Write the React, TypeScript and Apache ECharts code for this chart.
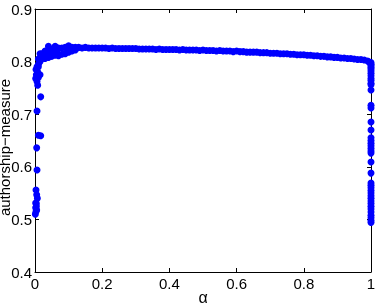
import React, { useEffect, useRef } from "react";
import * as echarts from "echarts";

const xTicks = [0, 0.2, 0.4, 0.6, 0.8, 1];
const yTicks = [0.4, 0.5, 0.6, 0.7, 0.8, 0.9];

// main band (alpha, authorship measure)
const bandAlpha = [
  0.01, 0.02, 0.03, 0.04, 0.05, 0.06, 0.07, 0.08, 0.09, 0.1,
  0.11, 0.12, 0.13, 0.14, 0.15, 0.16, 0.17, 0.18, 0.19, 0.2,
  0.21, 0.22, 0.23, 0.24, 0.25, 0.26, 0.27, 0.28, 0.29, 0.3,
  0.31, 0.32, 0.33, 0.34, 0.35, 0.36, 0.37, 0.38, 0.39, 0.4,
  0.41, 0.42, 0.43, 0.44, 0.45, 0.46, 0.47, 0.48, 0.49, 0.5,
  0.51, 0.52, 0.53, 0.54, 0.55, 0.56, 0.57, 0.58, 0.59, 0.6,
  0.61, 0.62, 0.63, 0.64, 0.65, 0.66, 0.67, 0.68, 0.69, 0.7,
  0.71, 0.72, 0.73, 0.74, 0.75, 0.76, 0.77, 0.78, 0.79, 0.8,
  0.81, 0.82, 0.83, 0.84, 0.85, 0.86, 0.87, 0.88, 0.89, 0.9,
  0.91, 0.92, 0.93, 0.94, 0.95, 0.96, 0.97, 0.98, 0.99, 0.995,
];
const bandValue = [
  0.805, 0.815, 0.82, 0.823, 0.824, 0.825, 0.826, 0.826, 0.827, 0.827,
  0.827, 0.827, 0.827, 0.826, 0.827, 0.826, 0.826, 0.826, 0.826, 0.826,
  0.826, 0.825, 0.826, 0.825, 0.825, 0.825, 0.825, 0.825, 0.825, 0.825,
  0.824, 0.824, 0.824, 0.824, 0.824, 0.823, 0.824, 0.823, 0.823, 0.823,
  0.823, 0.823, 0.822, 0.823, 0.822, 0.822, 0.822, 0.822, 0.821, 0.822,
  0.821, 0.821, 0.821, 0.82, 0.821, 0.82, 0.82, 0.82, 0.819, 0.82,
  0.819, 0.819, 0.818, 0.818, 0.818, 0.818, 0.817, 0.817, 0.817, 0.816,
  0.816, 0.816, 0.815, 0.815, 0.815, 0.814, 0.814, 0.813, 0.813, 0.813,
  0.812, 0.812, 0.811, 0.811, 0.81, 0.81, 0.809, 0.809, 0.808, 0.808,
  0.807, 0.807, 0.806, 0.806, 0.805, 0.804, 0.804, 0.803, 0.801, 0.799,
];

// scattered points in the early rise
const riseAlpha = [
  0.01, 0.015, 0.02, 0.025, 0.03, 0.035, 0.04, 0.045, 0.05, 0.055,
  0.06, 0.065, 0.07, 0.08, 0.09, 0.1, 0.11, 0.12, 0.015, 0.04, 0.06, 0.1,
];
const riseValue = [
  0.79, 0.8, 0.805, 0.81, 0.806, 0.812, 0.808, 0.818, 0.81, 0.816,
  0.812, 0.818, 0.811, 0.814, 0.815, 0.818, 0.82, 0.822, 0.815, 0.829, 0.829, 0.83,
];

// points at alpha close to 0
const leftAlpha = [
  0.003, 0.006, 0.01, 0.004, 0.008, 0.002, 0.006, 0.01, 0.015, 0.008,
  0.017, 0.006, 0.01, 0.017, 0.005, 0.006, 0.003, 0.005, 0.007, 0.002,
  0.004, 0.002, 0.003, 0.005, 0.001, 0.004,
];
const leftValue = [
  0.785, 0.79, 0.795, 0.775, 0.78, 0.768, 0.762, 0.77, 0.775, 0.755,
  0.733, 0.706, 0.66, 0.659, 0.636, 0.594, 0.556, 0.547, 0.54, 0.531,
  0.525, 0.522, 0.515, 0.518, 0.51, 0.53,
];

// points at alpha = 1
const rightValue = [
  0.798, 0.795, 0.792, 0.789, 0.786, 0.782, 0.778, 0.773, 0.768, 0.764,
  0.759, 0.756, 0.746, 0.717, 0.712, 0.685, 0.67, 0.655, 0.65, 0.645,
  0.64, 0.635, 0.63, 0.626, 0.609, 0.588, 0.569, 0.565, 0.56, 0.555,
  0.55, 0.545, 0.54, 0.535, 0.53, 0.525, 0.52, 0.514, 0.508, 0.503,
  0.498, 0.494,
];

export default function App() {
  const ref = useRef<HTMLDivElement>(null);
  useEffect(() => {
    if (!ref.current) return;
    const chart = echarts.init(ref.current, undefined, { renderer: "svg" });
    const pts: number[][] = [];
    bandAlpha.forEach((a, i) => pts.push([a, bandValue[i]]));
    riseAlpha.forEach((a, i) => pts.push([a, riseValue[i]]));
    leftAlpha.forEach((a, i) => pts.push([a, leftValue[i]]));
    rightValue.forEach((v) => pts.push([1, v]));
    const font = "'Liberation Sans', Arial, sans-serif";
    const axisCommon = {
      axisLine: { show: true, onZero: false, lineStyle: { color: "#000", width: 1 } },
      axisTick: { show: true, inside: true, length: 4, lineStyle: { color: "#000" } },
      splitLine: { show: false },
    };
    chart.setOption({
      animation: false,
      grid: {
        left: 35,
        top: 9,
        right: 9,
        bottom: 34,
        containLabel: false,
        outerBoundsMode: "none",
      },
      xAxis: [
        {
          type: "value",
          min: 0,
          max: 1,
          interval: 0.2,
          name: "α",
          nameLocation: "middle",
          nameGap: 17,
          nameMoveOverlap: false,
          nameTextStyle: { fontFamily: font, fontSize: 16, color: "#000" },
          axisLabel: {
            fontFamily: font,
            fontSize: 15,
            color: "#000",
            margin: 4,
            formatter: (v: number) => String(xTicks.find((t) => Math.abs(t - v) < 1e-9) ?? v),
          },
          ...axisCommon,
        },
        {
          type: "value",
          position: "top",
          min: 0,
          max: 1,
          interval: 0.2,
          axisLabel: { show: false },
          ...axisCommon,
        },
      ],
      yAxis: [
        {
          type: "value",
          min: 0.4,
          max: 0.9,
          interval: 0.1,
          name: "authorship−measure",
          nameLocation: "middle",
          nameGap: 23,
          nameMoveOverlap: false,
          nameTextStyle: {
            fontFamily: font,
            fontSize: 15,
            color: "#000",
            padding: [0, 14, 0, 0],
          },
          axisLabel: {
            fontFamily: font,
            fontSize: 15,
            color: "#000",
            margin: 3,
            formatter: (v: number) => {
              const t = yTicks.find((t) => Math.abs(t - v) < 1e-9);
              return (t ?? v).toFixed(1);
            },
          },
          ...axisCommon,
        },
        {
          type: "value",
          position: "right",
          min: 0.4,
          max: 0.9,
          interval: 0.1,
          axisLabel: { show: false },
          ...axisCommon,
        },
      ],
      series: [
        {
          type: "scatter",
          data: pts,
          symbol: "circle",
          symbolSize: 7,
          clip: false,
          itemStyle: { color: "#0000ff", opacity: 1 },
        },
      ],
    });
    return () => chart.dispose();
  }, []);
  return (
    <div
      ref={ref}
      style={{ position: "fixed", left: 0, top: 0, width: 380, height: 306 }}
    />
  );
}
